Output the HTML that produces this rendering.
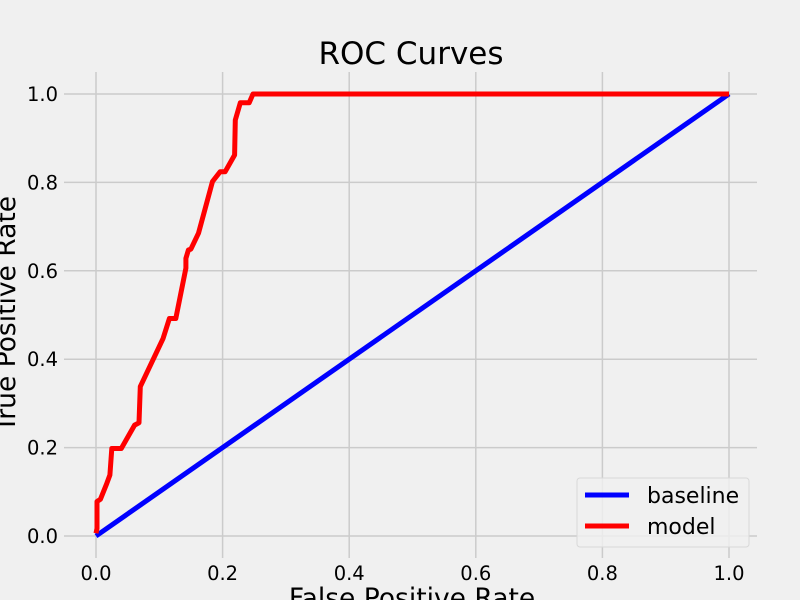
<!DOCTYPE html>
<html><head><meta charset="utf-8"><style>
html,body{margin:0;padding:0;background:#f0f0f0;overflow:hidden}
svg{display:block;font-family:"DejaVu Sans","Liberation Sans",sans-serif}
</style></head><body>
<svg id="chart" width="800" height="600">
<rect width="800" height="600" fill="#f0f0f0"/>
<g id="grid"></g>
<g id="ticks"></g>
<g id="series"></g>
<text x="411" y="64" font-size="31" text-anchor="middle" fill="#000">ROC Curves</text>
<text x="412" y="607" font-size="26.5" text-anchor="middle" fill="#000">False Positive Rate</text>
<text transform="translate(15,314) rotate(-90)" font-size="26.5" text-anchor="middle" fill="#000">True Positive Rate</text>
<g>
<rect x="577" y="478" width="172" height="69" rx="3" fill="#f0f0f0" fill-opacity="0.8" stroke="#d8d8d8"/>
<line x1="585" y1="495" x2="629" y2="495" stroke="#0000ff" stroke-width="5"/>
<text x="647" y="503" font-size="22" fill="#000">baseline</text>
<line x1="585" y1="526" x2="629" y2="526" stroke="#ff0000" stroke-width="5"/>
<text x="647" y="534" font-size="22" fill="#000">model</text>
</g>
</svg>
<script>
const xTicks = [0, 0.2, 0.4, 0.6, 0.8, 1.0];
const yTicks = [0, 0.2, 0.4, 0.6, 0.8, 1.0];
const tickLabels = ["0.0", "0.2", "0.4", "0.6", "0.8", "1.0"];
const baselineFpr = [0, 1];
const baselineTpr = [0, 1];
const modelFpr = [0, 0.0016, 0.0016, 0.007, 0.017, 0.022, 0.025, 0.040, 0.061, 0.068, 0.070, 0.106, 0.116, 0.126, 0.142, 0.142, 0.146, 0.150, 0.162, 0.184, 0.196, 0.204, 0.219, 0.220, 0.228, 0.242, 0.248, 1.0];
const modelTpr = [0.006, 0.017, 0.078, 0.083, 0.119, 0.138, 0.198, 0.198, 0.251, 0.256, 0.338, 0.447, 0.492, 0.492, 0.606, 0.628, 0.647, 0.649, 0.685, 0.802, 0.824, 0.824, 0.862, 0.941, 0.980, 0.980, 1.0, 1.0];

const NS = "http://www.w3.org/2000/svg";
const X = v => 96 + v * 633;
const Y = v => 536 - v * 442;
const grid = document.getElementById('grid');
const ticks = document.getElementById('ticks');
function mk(tag, attrs, parent) {
  const e = document.createElementNS(NS, tag);
  for (const k in attrs) e.setAttribute(k, attrs[k]);
  parent.appendChild(e);
  return e;
}
xTicks.forEach((v, i) => {
  const l = mk('line', {x1: X(v), x2: X(v), y1: 72, y2: 558, stroke: '#cbcbcb', 'stroke-width': 1.5}, grid);
  
  
  const t = mk('text', {x: X(v), y: 580, 'font-size': 19.5, 'text-anchor': 'middle', fill: '#000'}, ticks);
  t.textContent = tickLabels[i];
  
  
});
yTicks.forEach((v, i) => {
  const l = mk('line', {x1: 64, x2: 757, y1: Y(v), y2: Y(v), stroke: '#cbcbcb', 'stroke-width': 1.5}, grid);
  
  
  const t = mk('text', {x: 58, y: Y(v) + 7, 'font-size': 19.5, 'text-anchor': 'end', fill: '#000'}, ticks);
  t.textContent = tickLabels[i];
  
  
});
const series = document.getElementById('series');
function pts(xs, ys) { return xs.map((x, i) => X(x).toFixed(1) + ',' + Y(ys[i]).toFixed(1)).join(' '); }
const b = mk('polyline', {points: pts(baselineFpr, baselineTpr), fill: 'none', stroke: '#0000ff', 'stroke-width': 5}, series);


const m = mk('polyline', {points: pts(modelFpr, modelTpr), fill: 'none', stroke: '#ff0000', 'stroke-width': 5, 'stroke-linejoin': 'round'}, series);


</script>
</body></html>
